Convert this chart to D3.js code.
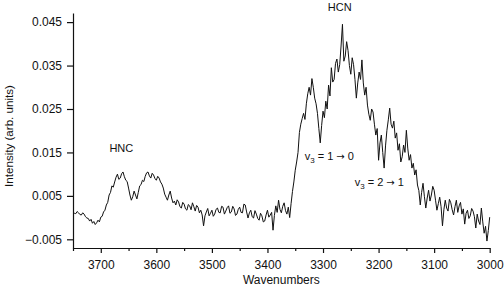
<!DOCTYPE html>
<html>
<head>
<meta charset="utf-8">
<script src="https://cdn.jsdelivr.net/npm/d3@7"></script>
<style>
  body { margin: 0; background: #fff; }
  svg { display: block; font-family: "Liberation Sans", Arial, sans-serif; }
  .tick text { font-size: 12px; fill: #111; }
  .domain, .tick line { stroke: #111; stroke-width: 1.2; }
</style>
</head>
<body>
<svg width="504" height="287"></svg>
<script>
// spectrum sampled every 2.5 cm-1, from 3750 down to 3000 (10 values per row)
const wavenumbers = d3.range(3750, 2999, -2.5);
const intensity = [
  0.0013, 0.0010, 0.0009, 0.0014, 0.0011, 0.0007, 0.0006, 0.0011, 0.0008, 0.0002,
  -0.0001, -0.0002, -0.0008, -0.0004, -0.0013, -0.0009, -0.0016, -0.0012, -0.0006, -0.0010,
  0.0001, 0.0003, 0.0013, 0.0017, 0.0029, 0.0035, 0.0052, 0.0058, 0.0073, 0.0070,
  0.0082, 0.0093, 0.0100, 0.0088, 0.0091, 0.0101, 0.0105, 0.0094, 0.0086, 0.0083,
  0.0068, 0.0052, 0.0040, 0.0048, 0.0061, 0.0052, 0.0043, 0.0058, 0.0073, 0.0076,
  0.0086, 0.0083, 0.0095, 0.0103, 0.0105, 0.0096, 0.0091, 0.0102, 0.0098, 0.0090,
  0.0086, 0.0095, 0.0091, 0.0082, 0.0077, 0.0068, 0.0054, 0.0047, 0.0040, 0.0052,
  0.0061, 0.0045, 0.0034, 0.0038, 0.0029, 0.0041, 0.0036, 0.0025, 0.0022, 0.0035,
  0.0031, 0.0020, 0.0017, 0.0030, 0.0027, 0.0018, 0.0034, 0.0025, 0.0015, 0.0028,
  0.0024, 0.0011, 0.0017, 0.0006, -0.0019, 0.0004, 0.0013, 0.0021, 0.0004, 0.0010,
  0.0017, 0.0003, 0.0008, 0.0019, 0.0022, 0.0012, 0.0011, 0.0026, 0.0024, 0.0008,
  0.0015, 0.0023, 0.0027, 0.0010, 0.0013, 0.0026, 0.0020, 0.0005, 0.0008, 0.0019,
  0.0024, 0.0012, 0.0011, 0.0031, 0.0029, 0.0013, -0.0001, 0.0011, 0.0017, 0.0002,
  -0.0001, 0.0016, 0.0008, -0.0002, -0.0006, 0.0010, 0.0004, -0.0010, -0.0008, 0.0006,
  0.0017, 0.0001, 0.0006, 0.0012, -0.0029, 0.0005, 0.0027, 0.0012, 0.0040, 0.0019,
  0.0011, 0.0026, 0.0034, 0.0016, 0.0008, 0.0024, 0.0000, 0.0032, 0.0060, 0.0082,
  0.0109, 0.0128, 0.0150, 0.0196, 0.0215, 0.0228, 0.0240, 0.0226, 0.0262, 0.0285,
  0.0300, 0.0282, 0.0320, 0.0300, 0.0275, 0.0262, 0.0240, 0.0205, 0.0172, 0.0212,
  0.0245, 0.0230, 0.0268, 0.0250, 0.0305, 0.0280, 0.0345, 0.0312, 0.0318, 0.0355,
  0.0365, 0.0335, 0.0352, 0.0395, 0.0445, 0.0360, 0.0372, 0.0405, 0.0385, 0.0350,
  0.0330, 0.0368, 0.0352, 0.0318, 0.0275, 0.0310, 0.0335, 0.0318, 0.0363, 0.0310,
  0.0282, 0.0300, 0.0259, 0.0238, 0.0224, 0.0250, 0.0243, 0.0215, 0.0190, 0.0205,
  0.0132, 0.0172, 0.0190, 0.0150, 0.0114, 0.0165, 0.0201, 0.0225, 0.0252, 0.0215,
  0.0206, 0.0222, 0.0183, 0.0195, 0.0155, 0.0170, 0.0128, 0.0140, 0.0167, 0.0150,
  0.0201, 0.0160, 0.0132, 0.0145, 0.0114, 0.0125, 0.0098, 0.0110, 0.0075, 0.0062,
  0.0029, 0.0058, 0.0079, 0.0048, 0.0022, 0.0045, 0.0063, 0.0038, 0.0052, 0.0072,
  0.0063, 0.0040, 0.0017, 0.0032, 0.0047, 0.0025, -0.0019, 0.0018, 0.0040, 0.0022,
  0.0015, 0.0042, 0.0034, 0.0018, 0.0006, 0.0025, 0.0040, 0.0012, 0.0027, 0.0035,
  0.0008, 0.0020, -0.0015, 0.0010, 0.0017, -0.0002, 0.0004, 0.0021, 0.0015, 0.0002,
  -0.0024, 0.0008, -0.0008, -0.0016, 0.0022, -0.0010, -0.0036, -0.0020, -0.0054, -0.0030,
  0.0001
];
const xTicks = [3700, 3600, 3500, 3400, 3300, 3200, 3100, 3000];
const xMinorTicks = [3750, 3650, 3550, 3450, 3350, 3250, 3150, 3050];
const yTicks = [-0.005, 0.005, 0.015, 0.025, 0.035, 0.045];

// peak labels: [text, wavenumber, intensity]
const peakLabels = [['HNC', 3663, 0.0150], ['HCN', 3270, 0.0475]];
// transition labels: [upper v3, lower v3, wavenumber at start, intensity]
const transitions = [[1, 0, 3333, 0.0132], [2, 1, 3243, 0.0072]];

const svg = d3.select('svg');
const data = wavenumbers.map((w, i) => ({ w: w, v: intensity[i] }));

const xScale = d3.scaleLinear().domain([3750, 3000]).range([73, 489.7]);
const yScale = d3.scaleLinear().domain([-0.007, 0.0471]).range([248, 13]);

// axes
svg.append('g')
  .attr('transform', 'translate(0,248)')
  .call(d3.axisBottom(xScale).tickValues(xTicks).tickSize(5).tickPadding(7).tickSizeOuter(0)
    .tickFormat(d3.format('d')));
svg.append('g')
  .attr('transform', 'translate(0,248)')
  .call(d3.axisBottom(xScale).tickValues(xMinorTicks).tickSize(3).tickFormat('').tickSizeOuter(0))
  .select('.domain').remove();

svg.append('g')
  .attr('transform', 'translate(73,0)')
  .call(d3.axisLeft(yScale).tickValues(yTicks).tickSize(6).tickPadding(5).tickSizeOuter(0)
    .tickFormat(d => d3.format('.3f')(d).replace('-', '\u2212')));

svg.selectAll('.tick text').attr('font-family', null);

// spectrum
svg.append('path')
  .datum(data)
  .attr('fill', 'none')
  .attr('stroke', '#111')
  .attr('stroke-width', 1)
  .attr('stroke-linejoin', 'round')
  .attr('d', d3.line().x(d => xScale(d.w)).y(d => yScale(d.v)));

// axis titles
svg.append('text')
  .attr('x', xScale(3375))
  .attr('y', 284)
  .attr('text-anchor', 'middle')
  .attr('font-size', 12)
  .attr('fill', '#111')
  .text('Wavenumbers');

svg.append('text')
  .attr('transform', 'translate(13,136) rotate(-90)')
  .attr('text-anchor', 'middle')
  .attr('font-size', 11.6)
  .attr('fill', '#111')
  .text('Intensity (arb. units)');

// annotations
svg.selectAll('.peak')
  .data(peakLabels).enter()
  .append('text')
    .attr('class', 'peak')
    .attr('x', d => xScale(d[1]))
    .attr('y', d => yScale(d[2]))
    .attr('text-anchor', 'middle')
    .attr('font-size', 11)
    .attr('fill', '#111')
    .text(d => d[0]);

const tr = svg.selectAll('.trans')
  .data(transitions).enter()
  .append('text')
    .attr('class', 'trans')
    .attr('x', d => xScale(d[2]))
    .attr('y', d => yScale(d[3]))
    .attr('font-size', 11)
    .attr('fill', '#111');
tr.append('tspan').text('v');
tr.append('tspan').attr('dy', 3).attr('font-size', 8).text('3');
tr.append('tspan').attr('dy', -3).text(d => ' = ' + d[0] + ' ');
tr.append('tspan').attr('font-family', 'DejaVu Sans').attr('font-size', 10).text('\u2192');
tr.append('tspan').text(d => ' ' + d[1]);
</script>
</body>
</html>
